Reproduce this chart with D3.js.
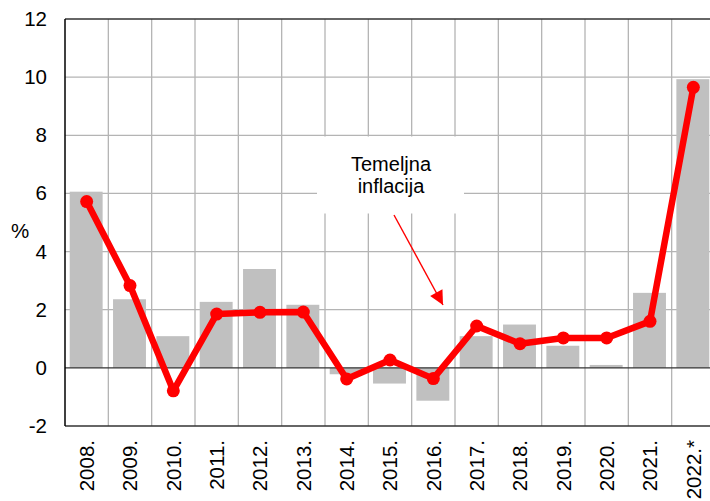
<!DOCTYPE html>
<html>
<head>
<meta charset="utf-8">
<script src="https://cdn.jsdelivr.net/npm/d3@7"></script>
<style>
  html, body { margin: 0; padding: 0; background: #fff; overflow: hidden; }
  svg { display: block; }
  text { font-family: "Liberation Sans", Arial, sans-serif; fill: #000; }
</style>
</head>
<body>
<svg id="chart" width="710" height="501"></svg>
<script>
const categories = ["2008.", "2009.", "2010.", "2011.", "2012.", "2013.", "2014.", "2015.", "2016.", "2017.", "2018.", "2019.", "2020.", "2021.", "2022.*"];
const barValues = [6.06, 2.36, 1.09, 2.27, 3.40, 2.17, -0.22, -0.54, -1.13, 1.09, 1.49, 0.76, 0.10, 2.58, 9.93];
const lineValues = [5.72, 2.83, -0.79, 1.85, 1.91, 1.92, -0.38, 0.27, -0.37, 1.44, 0.83, 1.03, 1.03, 1.60, 9.65];
const yTicks = [-2, 0, 2, 4, 6, 8, 10, 12];
const yLabel = "%";
const annotationLines = ["Temeljna", "inflacija"];

const svg = d3.select("#chart");
const pLeft = 65, pRight = 715, pTop = 19, pBottom = 426;

const x = d3.scaleBand().domain(categories).range([pLeft, pRight]).padding(0);
const y = d3.scaleLinear().domain([-2, 12]).range([pBottom, pTop]);
const barW = x.bandwidth() * 0.76;

const gridColor = "#b4b4b4";
const axisColor = "#333";

// horizontal gridlines
svg.append("g").selectAll("line").data(yTicks.filter(t => t !== 0 && t !== -2 && t !== 12))
  .join("line")
  .attr("x1", pLeft).attr("x2", pRight)
  .attr("y1", d => y(d)).attr("y2", d => y(d))
  .attr("stroke", gridColor).attr("stroke-width", 1.3);

// vertical gridlines between categories
svg.append("g").selectAll("line").data(categories.slice(1))
  .join("line")
  .attr("x1", d => x(d)).attr("x2", d => x(d))
  .attr("y1", pTop).attr("y2", pBottom)
  .attr("stroke", gridColor).attr("stroke-width", 1.3);

// bars
svg.append("g").selectAll("rect").data(categories)
  .join("rect")
  .attr("x", d => x(d) + (x.bandwidth() - barW) / 2 - 0.5)
  .attr("width", barW)
  .attr("y", (d, i) => y(Math.max(0, barValues[i])))
  .attr("height", (d, i) => Math.abs(y(barValues[i]) - y(0)))
  .attr("fill", "#c0c0c0");

// annotation white box (covers gridlines)
svg.append("rect")
  .attr("x", 317).attr("y", 136.5).attr("width", 147).attr("height", 77)
  .attr("fill", "#fff");

// frame lines
svg.append("line").attr("x1", pLeft).attr("x2", pRight).attr("y1", y(12)).attr("y2", y(12))
  .attr("stroke", axisColor).attr("stroke-width", 1.5);
svg.append("line").attr("x1", pLeft).attr("x2", pRight).attr("y1", y(-2)).attr("y2", y(-2))
  .attr("stroke", axisColor).attr("stroke-width", 1.5);
svg.append("line").attr("x1", pLeft).attr("x2", pRight).attr("y1", y(0)).attr("y2", y(0))
  .attr("stroke", axisColor).attr("stroke-width", 1.3);
svg.append("line").attr("x1", pLeft).attr("x2", pLeft).attr("y1", pTop).attr("y2", pBottom)
  .attr("stroke", "#000").attr("stroke-width", 1.5);

// y axis labels
const yAxis = d3.axisLeft(y).tickValues(yTicks).tickSize(0).tickPadding(18).tickFormat(d => String(d));
const gy = svg.append("g").attr("transform", `translate(${pLeft},0)`).call(yAxis);
gy.select(".domain").remove();
gy.selectAll("text").attr("font-size", 20.5).attr("font-family", "Liberation Sans, Arial, sans-serif").attr("fill", "#000");

svg.append("text").attr("x", 11).attr("y", 238).attr("font-size", 20.5).text(yLabel);

// x axis labels (rotated)
const xAxis = d3.axisBottom(x).tickSize(0).tickPadding(0);
const gx = svg.append("g").attr("transform", `translate(0,${pBottom})`).call(xAxis);
gx.select(".domain").remove();
gx.selectAll("text")
  .attr("font-size", 20.5)
  .attr("font-family", "Liberation Sans, Arial, sans-serif")
  .attr("fill", "#000")
  .attr("text-anchor", "end")
  .attr("dy", "0.35em")
  .attr("transform", "translate(0,14) rotate(-90)")
  .attr("x", 0).attr("y", 0);

// line series
const line = d3.line().x((d, i) => x(categories[i]) + x.bandwidth() / 2).y(d => y(d));
svg.append("path").datum(lineValues)
  .attr("d", line).attr("fill", "none")
  .attr("stroke", "#ff0000").attr("stroke-width", 6.5).attr("stroke-linejoin", "round");
svg.append("g").selectAll("circle").data(lineValues)
  .join("circle")
  .attr("cx", (d, i) => x(categories[i]) + x.bandwidth() / 2)
  .attr("cy", d => y(d))
  .attr("r", 6.5)
  .attr("fill", "#ff0000");

// annotation text
const ann = svg.append("text").attr("text-anchor", "middle").attr("font-size", 20);
annotationLines.forEach((t, i) => {
  ann.append("tspan").attr("x", 391).attr("y", 171 + i * 22).text(t);
});

// arrow
svg.append("defs").append("marker")
  .attr("id", "arrow").attr("viewBox", "0 0 10 10")
  .attr("refX", 10).attr("refY", 5)
  .attr("markerWidth", 15).attr("markerHeight", 14)
  .attr("markerUnits", "userSpaceOnUse")
  .attr("orient", "auto")
  .append("path").attr("d", "M0,0 L10,5 L0,10 z").attr("fill", "#ff0000");
svg.append("line")
  .attr("x1", 394).attr("y1", 215).attr("x2", 443).attr("y2", 305)
  .attr("stroke", "#ff0000").attr("stroke-width", 1.4)
  .attr("marker-end", "url(#arrow)");
</script>
</body>
</html>
